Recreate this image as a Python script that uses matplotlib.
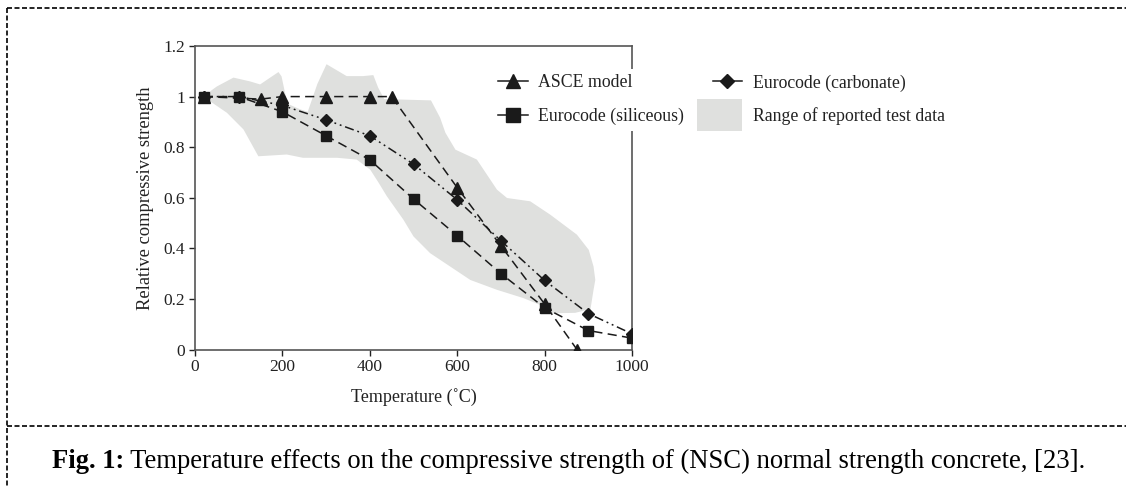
import matplotlib
matplotlib.use("Agg")
import matplotlib.pyplot as plt
from matplotlib.lines import Line2D
from matplotlib.patches import Patch, Rectangle
from matplotlib.legend_handler import HandlerPatch

plt.rcParams['font.family'] = ['Liberation Serif', 'DejaVu Serif']

# ---- data ----
asce_T = [20, 150, 200, 300, 400, 450, 600, 700, 800, 874]
asce_v = [1.0, 0.99, 1.0, 1.0, 1.0, 1.0, 0.64, 0.41, 0.18, 0.0]

sil_T = [20, 100, 200, 300, 400, 500, 600, 700, 800, 900, 1000]
sil_v = [1.0, 1.0, 0.94, 0.845, 0.75, 0.595, 0.45, 0.30, 0.165, 0.075, 0.045]

carb_T = [20, 100, 200, 300, 400, 500, 600, 700, 800, 900, 1000]
carb_v = [1.0, 1.0, 0.965, 0.908, 0.845, 0.733, 0.592, 0.43, 0.273, 0.142, 0.062]

# range of reported test data (outline, clockwise from left)
range_T = [18, 50, 88, 126, 149, 172, 191, 198, 206, 214, 240, 258, 280, 301,
           347, 385, 408, 419, 433, 540, 561, 573, 596, 645, 691, 714, 767, 813,
           874, 901, 912, 916, 912, 905,
           870, 817, 790, 752, 691, 630, 584, 538, 500, 477, 439, 420, 401,
           370, 325, 247, 210, 145, 111, 73, 23]
range_v = [1.0, 1.04, 1.075, 1.06, 1.048, 1.075, 1.097, 1.08, 1.015, 0.97, 0.95, 0.94, 1.05, 1.128,
           1.081, 1.081, 1.085, 1.036, 0.99, 0.985, 0.916, 0.857, 0.79, 0.751, 0.632, 0.599, 0.586, 0.533,
           0.454, 0.394, 0.328, 0.275, 0.236, 0.16,
           0.145, 0.143, 0.176, 0.203, 0.236, 0.275, 0.328, 0.381, 0.447, 0.513, 0.606, 0.66, 0.711,
           0.751, 0.758, 0.758, 0.771, 0.764, 0.87, 0.936, 0.995]

x_ticks = [0, 200, 400, 600, 800, 1000]
y_ticks = [0, 0.2, 0.4, 0.6, 0.8, 1.0, 1.2]
y_ticklabels = ['0', '0.2', '0.4', '0.6', '0.8', '1', '1.2']

labels = ['ASCE model', 'Eurocode (siliceous)', 'Eurocode (carbonate)', 'Range of reported test data']
xlabel = 'Temperature (\u02daC)'
ylabel = 'Relative compressive strength'
caption_bold = 'Fig. 1:'
caption_rest = ' Temperature effects on the compressive strength of (NSC) normal strength concrete, [23].'

# ---- figure ----
W, H = 1126, 486
fig = plt.figure(figsize=(W / 100, H / 100), dpi=100)
fig.patch.set_facecolor('white')

ax = fig.add_axes([195 / W, 1 - 349.5 / H, 437 / W, 303.5 / H])
gray = '#dfe0de'
ax.fill(range_T, range_v, color=gray, lw=0, zorder=1)

dash = (0, (6, 3.5))
ax.plot(asce_T, asce_v, color='#1a1a1a', lw=1.1, ls=dash, marker='^', ms=8.5, zorder=3)
ax.plot(sil_T, sil_v, color='#1a1a1a', lw=1.1, ls=dash, marker='s', ms=7.5, zorder=3)
ax.plot(carb_T, carb_v, color='#1a1a1a', lw=1.1, ls=(0, (6, 2.5, 1.2, 2.5, 1.2, 2.5)),
        marker='D', ms=6, zorder=3)

ax.set_xlim(0, 1000)
ax.set_ylim(0, 1.2)
ax.set_xticks(x_ticks)
ax.set_yticks(y_ticks)
ax.set_yticklabels(y_ticklabels)
ax.tick_params(direction='out', length=4, width=1, labelsize=12.5, colors='#222222', pad=3)
for s in ax.spines.values():
    s.set_color('#555555')
    s.set_linewidth(1.2)
ax.set_xlabel(xlabel, fontsize=13, labelpad=9, color='#222222')
ax.set_ylabel(ylabel, fontsize=13.3, labelpad=7, color='#222222')


class BigBox(HandlerPatch):
    def create_artists(self, legend, orig_handle, xdescent, ydescent, width, height, fontsize, trans):
        r = Rectangle((-xdescent - 11, -ydescent - 7), width + 11, height + 14,
                      facecolor=gray, edgecolor='none', transform=trans)
        return [r]


handles = [
    Line2D([], [], color='#1a1a1a', lw=1.1, marker='^', ms=10),
    Line2D([], [], color='#1a1a1a', lw=1.1, marker='s', ms=10),
    Line2D([], [], color='#1a1a1a', lw=1.1, marker='D', ms=7),
    Patch(facecolor=gray, edgecolor='none'),
]
leg = fig.legend(handles, labels, ncol=2, loc='upper left',
                 bbox_to_anchor=(484 / W, 1 - 60 / H), frameon=True, fontsize=12.8,
                 handlelength=1.65, handletextpad=0.6, columnspacing=1.6, labelspacing=0.9,
                 borderpad=0.3, handler_map={Patch: BigBox()})
leg.get_frame().set_facecolor('white')
leg.get_frame().set_edgecolor('none')
leg.get_frame().set_alpha(1)
for t in leg.get_texts():
    t.set_color('#222222')

# ---- dashed frame ----
fkw = dict(color='black', lw=1.2, ls=(0, (3, 1.5)), transform=fig.transFigure)
fig.add_artist(Line2D([7 / W, 1], [1 - 8 / H, 1 - 8 / H], **fkw))
fig.add_artist(Line2D([7 / W, 7 / W], [1 - 8 / H, 0], **fkw))
fig.add_artist(Line2D([7 / W, 1], [1 - 426 / H, 1 - 426 / H], **fkw))

# ---- caption ----
cy = 1 - 461 / H
tb = fig.text(52 / W, cy, caption_bold, fontsize=19.2, fontweight='bold', va='center', ha='left')
fig.canvas.draw()
bb = tb.get_window_extent(renderer=fig.canvas.get_renderer())
fig.text(bb.x1 / W, cy, caption_rest, fontsize=19.2, va='center', ha='left')

fig.savefig('out.png', dpi=100, facecolor='white')
